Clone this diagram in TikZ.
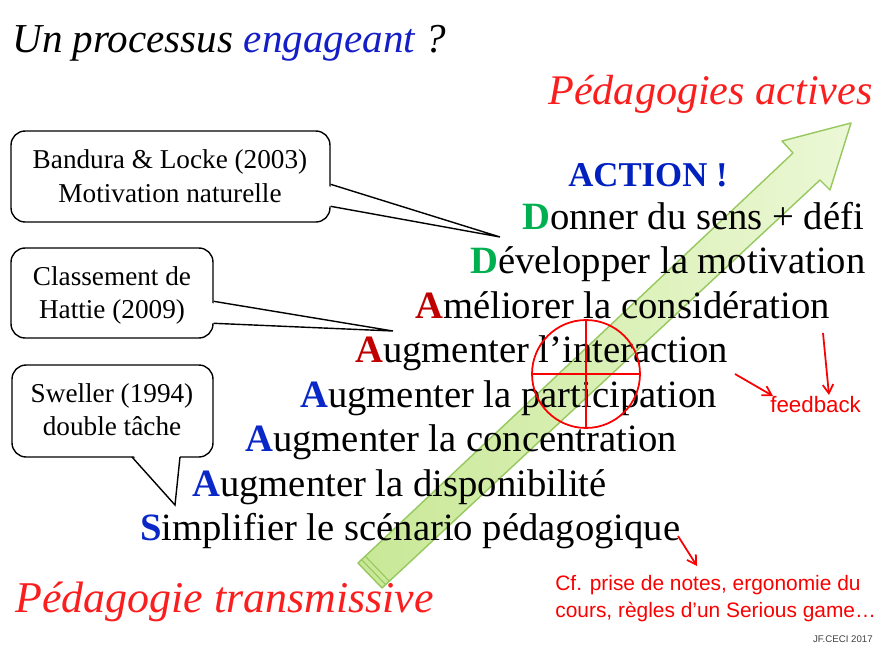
\documentclass[tikz,border=0pt]{standalone}
\usepackage{fontspec}
\setmainfont{Liberation Serif}
\setsansfont{Liberation Sans}
\usetikzlibrary{arrows.meta,calc}
\definecolor{engblue}{RGB}{20,30,200}
\definecolor{actionblue}{RGB}{0,32,192}
\definecolor{inired}{RGB}{192,0,0}
\definecolor{iniblue}{RGB}{10,40,200}
\definecolor{inigreen}{RGB}{0,176,80}
\definecolor{hotred}{RGB}{250,30,30}
\definecolor{handred}{RGB}{250,0,0}
\definecolor{arrowdark}{RGB}{200,232,150}
\definecolor{arrowlight}{RGB}{236,248,214}
\definecolor{arrowedge}{RGB}{150,200,95}
\newcommand\Ini[2]{\textcolor{#1}{\textbf{#2}}}
\begin{document}
\begin{tikzpicture}[x=0.02cm,y=-0.02cm,
  mainline/.style={anchor=base west, inner sep=0, font=\fontsize{22}{26}\selectfont},
  bubble/.style={draw=black, line width=0.8pt, rounded corners=8pt, fill=white, inner sep=0},
  bubbletext/.style={anchor=base, inner sep=0, font=\fontsize{15.5}{18}\selectfont},
  tailline/.style={draw=black, line width=0.8pt, line join=miter},
  hand/.style={text=handred, inner sep=0, anchor=base west, font=\sffamily\fontsize{11.9}{13}\selectfont},
  redarrow/.style={draw=handred, line width=1pt, -{Straight Barb[length=5pt,width=6pt]}},
  bigred/.style={text=hotred, inner sep=0, anchor=base west, font=\itshape\fontsize{24}{28}\selectfont},
]
\useasboundingbox (0,0) rectangle (877,646);
\fill[white] (0,0) rectangle (877,646);

% title
\node[anchor=base west, inner sep=0, font=\itshape\fontsize{23.4}{28}\selectfont] (title) at (12,52)
  {Un processus \textcolor{engblue}{engageant} ?};

% big green arrow
\coordinate (aBL) at (358,563);
\coordinate (aBR) at (382,588);
\coordinate (aLN) at (793,153);
\coordinate (aLB) at (782,141);
\coordinate (aT)  at (851,123);
\coordinate (aRB) at (830,190);
\coordinate (aRN) at (820,180);
\draw[draw=arrowedge, line width=0.8pt, left color=arrowdark, right color=arrowlight, line join=round]
  (aBL) -- (aLN) -- (aLB) -- (aT) -- (aRB) -- (aRN) -- (aBR) -- cycle;
\draw[arrowedge, line width=0.6pt] (361.6,559.6) -- (385.6,584.6);
\draw[arrowedge, line width=0.6pt] (365.3,556.2) -- (389.3,581.2);

% headings
\node[bigred] (actives) at (548,104) {Pédagogies actives};
\node[bigred, font=\itshape\fontsize{25}{30}\selectfont] (transm) at (15,612) {Pédagogie transmissive};

% main list
\node[anchor=base, inner sep=0, font=\bfseries\fontsize{19.8}{24}\selectfont, text=actionblue] (action) at (648,186) {ACTION !};
\node[mainline] (l1) at (522,229)   {\Ini{inigreen}{D}onner du sens + défi};
\node[mainline] (l2) at (470,273.5) {\Ini{inigreen}{D}évelopper la motivation};
\node[mainline] (l3) at (415,318)   {\Ini{inired}{A}méliorer la considération};
\node[mainline] (l4) at (355,362.5) {\Ini{inired}{A}ugmenter l’interaction};
\node[mainline] (l5) at (300,407)   {\Ini{iniblue}{A}ugmenter la participation};
\node[mainline] (l6) at (245,451.5) {\Ini{iniblue}{A}ugmenter la concentration};
\node[mainline] (l7) at (192,496)   {\Ini{iniblue}{A}ugmenter la disponibilité};
\node[mainline] (l8) at (140,540.5) {\Ini{iniblue}{S}implifier le scénario pédagogique};

% speech bubbles
\node[bubble, minimum width=6.38cm, minimum height=1.82cm] (b1) at (170.5,176.5) {};
\coordinate (t1) at (500,237);
\fill[white] (328,186) -- (t1) -- (328,206) -- cycle;
\draw[tailline] ($(b1.north east)+(0,54)$) -- (t1) -- ($(b1.north east)+(0,76)$);
\node[bubbletext] (b1a) at (170,168) {Bandura \& Locke (2003)};
\node[bubbletext] (b1b) at (170,202) {Motivation naturelle};

\node[bubble, minimum width=4.04cm, minimum height=1.80cm] (b2) at (112,293) {};
\coordinate (t2) at (393,331);
\fill[white] (211,303) -- (t2) -- (211,323) -- cycle;
\draw[tailline] ($(b2.north east)+(0,54)$) -- (t2) -- ($(b2.north east)+(0,76)$);
\node[bubbletext] (b2a) at (112,285) {Classement de};
\node[bubbletext] (b2b) at (112,318) {Hattie (2009)};

\node[bubble, minimum width=4.02cm, minimum height=1.84cm] (b3) at (112.5,411) {};
\coordinate (t3) at (175,505);
\fill[white] (133,455) -- (t3) -- (180,455) -- cycle;
\draw[tailline] (132,457) -- (t3) -- (180,457);
\node[bubbletext] (b3a) at (112,402) {Sweller (1994)};
\node[bubbletext] (b3b) at (112,435) {double tâche};

% target
\node[draw=handred, line width=1pt, circle, minimum size=2.16cm, inner sep=0] (tgt) at (586,374) {};
\draw[handred, line width=1pt] (tgt.north) -- (tgt.south);
\draw[handred, line width=1pt] (tgt.west) -- (tgt.east);

% handwritten notes
\node[hand, font=\sffamily\fontsize{12.7}{14}\selectfont] (fb) at (770,412) {feedback};
\coordinate (fa1) at (735,374);
\coordinate (fa2) at (773,396);
\coordinate (fb1) at (823,333);
\coordinate (fb2) at (829,395);
\draw[redarrow] (fa1) -- (fa2);
\draw[redarrow] (fb1) -- (fb2);
\coordinate (ca1) at (678,536);
\coordinate (ca2) at (697,566);
\draw[redarrow] (ca1) -- (ca2);
\node[hand] (cf1) at (555,590) {Cf. prise de notes, ergonomie du};
\node[hand] (cf2) at (555,617) {cours, règles d’un Serious game…};

\node[anchor=base east, inner sep=0, font=\sffamily\fontsize{5.5}{6}\selectfont, text=black!75] (sig) at (873,642) {JF.CECI 2017};
\end{tikzpicture}
\end{document}
